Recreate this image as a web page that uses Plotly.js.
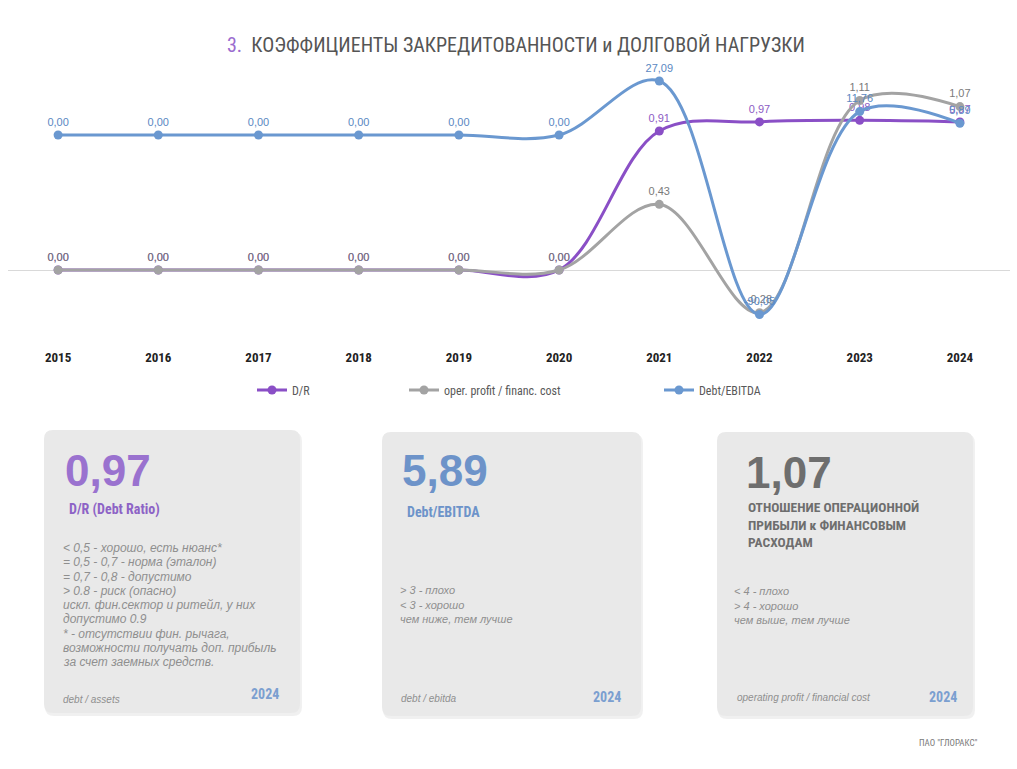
<!DOCTYPE html>
<html>
<head>
<meta charset="utf-8">
<script src="https://cdn.plot.ly/plotly-3.0.1.min.js"></script>
<style>
  html, body { margin: 0; padding: 0; background: #ffffff; }
  #chart { width: 1017px; height: 769px; }
</style>
</head>
<body>
<div id="chart"></div>
<script>
// ---- data ----
const years = ['2015', '2016', '2017', '2018', '2019', '2020', '2021', '2022', '2023', '2024'];
const debtRatio = [0, 0, 0, 0, 0, 0, 0.91, 0.97, 0.98, 0.97];
const opProfitFinCost = [0, 0, 0, 0, 0, 0, 0.43, -0.28, 1.11, 1.07];
const debtEbitda = [0, 0, 0, 0, 0, 0, 27.09, -90.05, 11.76, 5.89];
const seriesNames = ['D/R', 'oper. profit / financ. cost', 'Debt/EBITDA'];

const W = 1017, H = 769;
const COND = '"Liberation Sans Narrow", "Roboto Condensed", "Arial Narrow", "DejaVu Sans Condensed", sans-serif';
const REG = '"Liberation Sans", Arial, sans-serif';
const PURPLE = '#8a4fc6', GRAY = '#a3a3a3', BLUE = '#6a98d0';
const PURPLE_T = '#8c5cc4', GRAY_T = '#7a7a7a', BLUE_T = '#5b88c2';

const px = x => x / W;
const py = y => 1 - y / H;
const fmt = v => v.toFixed(2).replace('.', ',');

function trace(y, name, color, tcolor, yaxis, legend) {
  return {
    x: years, y: y, name: name, type: 'scatter', mode: 'lines+markers+text',
    yaxis: yaxis, legend: legend,
    line: { color: color, width: 3, shape: 'spline', smoothing: 1 },
    marker: { color: color, size: 9 },
    text: y.map(fmt), textposition: 'top center',
    textfont: { family: REG, size: 11, color: tcolor },
    cliponaxis: false, hoverinfo: 'skip'
  };
}

const data = [
  trace(debtRatio, seriesNames[0], PURPLE, PURPLE_T, 'y', 'legend'),
  trace(opProfitFinCost, seriesNames[1], GRAY, GRAY_T, 'y', 'legend2'),
  trace(debtEbitda, seriesNames[2], BLUE, BLUE_T, 'y2', 'legend3')
];

// plot area in pixels
const PT = 60, PB = 340;
const zero1 = 270, k1 = 152.7;  // primary: zero pixel, px per unit
const zero2 = 135, k2 = 1.993;  // secondary

function roundRect(x0, y0, x1, y1, r) {
  const X = v => px(v).toFixed(5), Y = v => py(v).toFixed(5);
  return 'M' + X(x0 + r) + ',' + Y(y0) +
    ' L' + X(x1 - r) + ',' + Y(y0) + ' Q' + X(x1) + ',' + Y(y0) + ' ' + X(x1) + ',' + Y(y0 + r) +
    ' L' + X(x1) + ',' + Y(y1 - r) + ' Q' + X(x1) + ',' + Y(y1) + ' ' + X(x1 - r) + ',' + Y(y1) +
    ' L' + X(x0 + r) + ',' + Y(y1) + ' Q' + X(x0) + ',' + Y(y1) + ' ' + X(x0) + ',' + Y(y1 - r) +
    ' L' + X(x0) + ',' + Y(y0 + r) + ' Q' + X(x0) + ',' + Y(y0) + ' ' + X(x0 + r) + ',' + Y(y0) + ' Z';
}

const cards = [[44, 430, 300, 713], [382, 432, 641, 716], [717, 432, 973, 716]];
const shapes = [];
cards.forEach(c => {
  shapes.push({ type: 'path', xref: 'paper', yref: 'paper', layer: 'below',
    path: roundRect(c[0] + 1, c[1] + 2, c[2] + 2, c[3] + 3, 9), fillcolor: 'rgba(0,0,0,0.06)', line: { width: 0 } });
  shapes.push({ type: 'path', xref: 'paper', yref: 'paper', layer: 'below',
    path: roundRect(c[0], c[1], c[2], c[3], 9), fillcolor: '#e9e9e9', line: { width: 0 } });
});

const ann = [];
function A(x, y, text, size, color, family, extra) {
  ann.push(Object.assign({ xref: 'paper', yref: 'paper', x: px(x), y: py(y), text: text, showarrow: false,
    xanchor: 'left', yanchor: 'middle', align: 'left',
    font: { size: size, color: color, family: family } }, extra || {}));
}

// title
A(516, 45, '<span style="color:#9a6ccf">3.</span>  КОЭФФИЦИЕНТЫ ЗАКРЕДИТОВАННОСТИ и ДОЛГОВОЙ НАГРУЗКИ', 20, '#555555', COND, { xanchor: 'center' });

const DESC = '#8f8f8f';
const lastI = years.length - 1;
// card 1
A(63, 470, '<b>' + fmt(debtRatio[lastI]) + '</b>', 44, '#9a72cf', REG);
A(67, 510, '<b>D/R (Debt Ratio)</b>', 14, '#8d63c6', COND);
const c1 = ['&lt; 0,5 - хорошо, есть нюанс*', '= 0,5 - 0,7 - норма (эталон)', '= 0,7 - 0,8 - допустимо',
  '&gt; 0.8 - риск (опасно)', 'искл. фин.сектор и ритейл, у них', 'допустимо 0.9',
  '* - отсутствии фин. рычага,', 'возможности получать доп. прибыль', 'за счет заемных средств.'];
c1.forEach((t, i) => A(61, 548 + i * 14.25, '<i>' + t + '</i>', 12, DESC, REG));
A(61, 699, '<i>debt / assets</i>', 10, DESC, REG);
A(249, 694, '<b>2024</b>', 14, '#7b9fd0', COND);

// card 2
A(400, 470, '<b>' + fmt(debtEbitda[lastI]) + '</b>', 44, '#6d93c9', REG);
A(405, 512, '<b>Debt/EBITDA</b>', 14, '#6d93c9', COND);
['&gt; 3 - плохо', '&lt; 3 - хорошо', 'чем ниже, тем лучше'].forEach((t, i) => A(398, 590 + i * 14.5, '<i>' + t + '</i>', 11, DESC, REG));
A(399, 698, '<i>debt / ebitda</i>', 10, DESC, REG);
A(591, 697, '<b>2024</b>', 14, '#7b9fd0', COND);

// card 3
A(744, 472, '<b>' + fmt(opProfitFinCost[lastI]) + '</b>', 44, '#6e6e6e', REG);
['ОТНОШЕНИЕ ОПЕРАЦИОННОЙ', 'ПРИБЫЛИ к ФИНАНСОВЫМ', 'РАСХОДАМ'].forEach((t, i) => A(746, 507 + i * 17.5, '<b>' + t + '</b>', 13.5, '#6e6e6e', COND));
['&lt; 4 - плохо', '&gt; 4 - хорошо', 'чем выше, тем лучше'].forEach((t, i) => A(732, 591 + i * 14.5, '<i>' + t + '</i>', 11, DESC, REG));
A(735, 697, '<i>operating profit / financial cost</i>', 10, DESC, REG);
A(927, 697, '<b>2024</b>', 14, '#7b9fd0', COND);

// footer
A(980, 743, 'ПАО "ГЛОРАКС"', 9, '#7a7a7a', COND, { xanchor: 'right' });

function leg(x) {
  return { x: px(x), y: py(390), xanchor: 'left', yanchor: 'middle', orientation: 'h',
    bgcolor: 'rgba(0,0,0,0)', font: { family: COND, size: 12, color: '#595959' }, itemwidth: 30 };
}

const layout = {
  width: W, height: H, margin: { l: 0, r: 0, t: 0, b: 0 },
  paper_bgcolor: '#ffffff', plot_bgcolor: 'rgba(0,0,0,0)',
  separators: ', ', showlegend: true,
  xaxis: { domain: [px(8), px(1010)], type: 'category', range: [-0.5, 9.5], showgrid: false, zeroline: false,
    showline: false, ticks: '', tickfont: { family: COND, size: 13, color: '#222222', weight: 'bold' }, ticklabelstandoff: 8 },
  yaxis: { domain: [py(PB), py(PT)], range: [-(PB - zero1) / k1, (zero1 - PT) / k1], showgrid: false,
    showticklabels: false, ticks: '', zeroline: true, zerolinecolor: '#d9d9d9', zerolinewidth: 1 },
  yaxis2: { overlaying: 'y', side: 'right', range: [-(PB - zero2) / k2, (zero2 - PT) / k2], visible: false, showgrid: false, zeroline: false },
  legend: leg(252), legend2: leg(404), legend3: leg(659),
  shapes: shapes, annotations: ann
};

Plotly.newPlot('chart', data, layout, { staticPlot: true, displayModeBar: false });
</script>
</body>
</html>
